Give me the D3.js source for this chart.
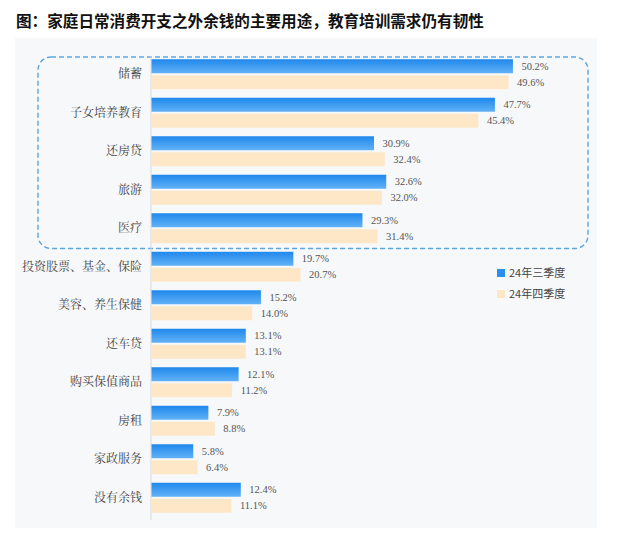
<!DOCTYPE html>
<html>
<head>
<meta charset="utf-8">
<script src="https://cdn.jsdelivr.net/npm/d3@7"></script>
<style>
  body { margin: 0; background: #fff; }
  svg { display: block; }
</style>
</head>
<body>
<svg id="chart"></svg>
<script>
(function () {
    const W = 634;
    const H = 560;

    // data
    const categories = ["储蓄", "子女培养教育", "还房贷", "旅游", "医疗", "投资股票、基金、保险",
        "美容、养生保健", "还车贷", "购买保值商品", "房租", "家政服务", "没有余钱"];
    const q3 = [50.2, 47.7, 30.9, 32.6, 29.3, 19.7, 15.2, 13.1, 12.1, 7.9, 5.8, 12.4];
    const q4 = [49.6, 45.4, 32.4, 32.0, 31.4, 20.7, 14.0, 13.1, 11.2, 8.8, 6.4, 11.1];
    const seriesNames = ["24年三季度", "24年四季度"];

    const svg = d3.select("#chart")
        .attr("width", W)
        .attr("height", H);

    const defs = svg.append("defs");
    const grad = defs.append("linearGradient")
        .attr("id", "blueGrad")
        .attr("x1", 0).attr("y1", 0).attr("x2", 0).attr("y2", 1);
    grad.append("stop").attr("offset", "0%").attr("stop-color", "#1f88ec");
    grad.append("stop").attr("offset", "100%").attr("stop-color", "#62b2f6");

    // title
    svg.append("text")
        .attr("x", 16)
        .attr("y", 27)
        .attr("font-family", "'Noto Sans CJK SC', sans-serif")
        .attr("font-weight", "bold")
        .attr("font-size", 15.6)
        .attr("fill", "#111")
        .text("图：家庭日常消费开支之外余钱的主要用途，教育培训需求仍有韧性");

    // panel
    svg.append("rect")
        .attr("x", 15).attr("y", 38)
        .attr("width", 582).attr("height", 490)
        .attr("fill", "#f7f8fa");

    const x = d3.scaleLinear()
        .domain([0, 60])
        .range([151, 583]);

    const y = d3.scaleBand()
        .domain(categories)
        .range([55, 517]);

    const barH = 14;
    const gap = 2;

    // highlight box round the first five categories
    const boxTop = y(categories[0]) + 2;
    const boxBottom = y(categories[4]) + y.bandwidth() + 1;
    svg.append("rect")
        .attr("x", 38).attr("y", boxTop)
        .attr("width", 550).attr("height", boxBottom - boxTop)
        .attr("rx", 13)
        .attr("fill", "none")
        .attr("stroke", "#5ba6e2")
        .attr("stroke-width", 1.4)
        .attr("stroke-dasharray", "5,3");

    // axis line
    svg.append("line")
        .attr("x1", x(0)).attr("x2", x(0))
        .attr("y1", 56).attr("y2", 520)
        .attr("stroke", "#d6d8dc")
        .attr("stroke-width", 1);

    const rows = categories.map((c, i) => ({ cat: c, a: q3[i], b: q4[i] }));
    const mid = d => y(d.cat) + y.bandwidth() / 2;

    const g = svg.append("g");

    g.selectAll(".barA")
        .data(rows)
        .enter().append("rect")
        .attr("x", x(0) + 0.5)
        .attr("y", d => mid(d) - gap / 2 - barH)
        .attr("width", d => x(d.a) - x(0))
        .attr("height", barH)
        .attr("fill", "url(#blueGrad)");

    g.selectAll(".barB")
        .data(rows)
        .enter().append("rect")
        .attr("x", x(0) + 0.5)
        .attr("y", d => mid(d) + gap / 2)
        .attr("width", d => x(d.b) - x(0))
        .attr("height", barH)
        .attr("fill", "#fde7c7");

    const numFont = "'Liberation Serif', 'Times New Roman', serif";

    g.selectAll(".lblA")
        .data(rows)
        .enter().append("text")
        .attr("x", d => x(d.a) + 9)
        .attr("y", d => mid(d) - gap / 2 - barH / 2)
        .attr("dy", "0.35em")
        .attr("font-family", numFont)
        .attr("font-size", 10.5)
        .attr("fill", "#555")
        .text(d => d.a.toFixed(1) + "%");

    g.selectAll(".lblB")
        .data(rows)
        .enter().append("text")
        .attr("x", d => x(d.b) + 9)
        .attr("y", d => mid(d) + gap / 2 + barH / 2)
        .attr("dy", "0.35em")
        .attr("font-family", numFont)
        .attr("font-size", 10.5)
        .attr("fill", "#555")
        .text(d => d.b.toFixed(1) + "%");

    // category labels
    g.selectAll(".cat")
        .data(rows)
        .enter().append("text")
        .attr("x", 142)
        .attr("y", d => mid(d))
        .attr("dy", "0.35em")
        .attr("text-anchor", "end")
        .attr("font-family", "'Noto Serif CJK SC', 'Noto Sans CJK SC', serif")
        .attr("font-size", 12)
        .attr("fill", "#444")
        .text(d => d.cat);

    // legend
    const legend = svg.append("g").attr("transform", "translate(497,273)");
    const legColors = ["#2a8fee", "#fde7c7"];
    seriesNames.forEach((name, i) => {
        const row = legend.append("g").attr("transform", `translate(0,${i * 21})`);
        row.append("rect")
            .attr("x", 0).attr("y", -4)
            .attr("width", 8).attr("height", 8)
            .attr("fill", legColors[i]);
        row.append("text")
            .attr("x", 12).attr("y", 0)
            .attr("dy", "0.35em")
            .attr("font-family", "'Noto Sans CJK SC', sans-serif")
            .attr("font-size", 11)
            .attr("fill", "#444")
            .text(name);
    });
})();
</script>
</body>
</html>
